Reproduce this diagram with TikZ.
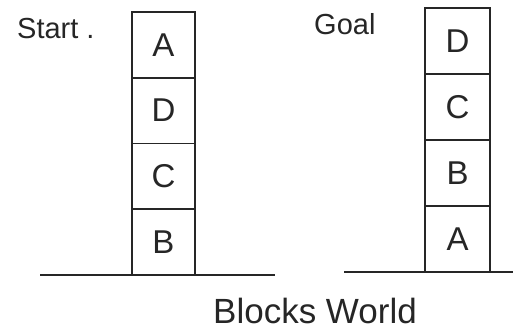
\documentclass[tikz,border=0pt]{standalone}
\usepackage{fontspec}
\setmainfont{Liberation Sans}
\definecolor{ink}{HTML}{262626}
\begin{document}
\begin{tikzpicture}[x=1pt,y=-1pt,
  blk/.style={draw=ink,line width=1.6pt,rectangle,inner sep=0pt,
    text=ink,font=\fontsize{33}{33}\selectfont},
  lblk/.style={blk,minimum width=63pt,minimum height=65.75pt},
  rblk/.style={blk,minimum width=65pt,minimum height=66pt},
  ground/.style={draw=ink,line width=1.6pt},
  lbl/.style={text=ink,inner sep=0pt,font=\fontsize{29}{29}\selectfont}]
\useasboundingbox (0,0) rectangle (513,329);
% start stack
\node[lblk] (sA) at (163.5,44.9) {A};
\node[lblk] (sD) at (163.5,110.6) {D};
\node[lblk] (sC) at (163.5,176.4) {C};
\node[lblk] (sB) at (163.5,242.1) {B};
% goal stack
\node[rblk] (gD) at (457.5,41) {D};
\node[rblk] (gC) at (457.5,107) {C};
\node[rblk] (gB) at (457.5,173) {B};
\node[rblk] (gA) at (457.5,239) {A};
% ground lines
\coordinate (l1) at (40,275);
\coordinate (l2) at (275,275);
\coordinate (r1) at (344,272);
\coordinate (r2) at (513,272);
\draw[ground] (l1) -- (l2);
\draw[ground] (r1) -- (r2);
% labels
\node[lbl,anchor=base west] (start) at (17,38) {Start .};
\node[lbl,anchor=base west] (goal) at (314,35) {Goal};
\node[lbl,anchor=base,font=\fontsize{35}{35}\selectfont] (title) at (315,323) {Blocks World};
\end{tikzpicture}
\end{document}
